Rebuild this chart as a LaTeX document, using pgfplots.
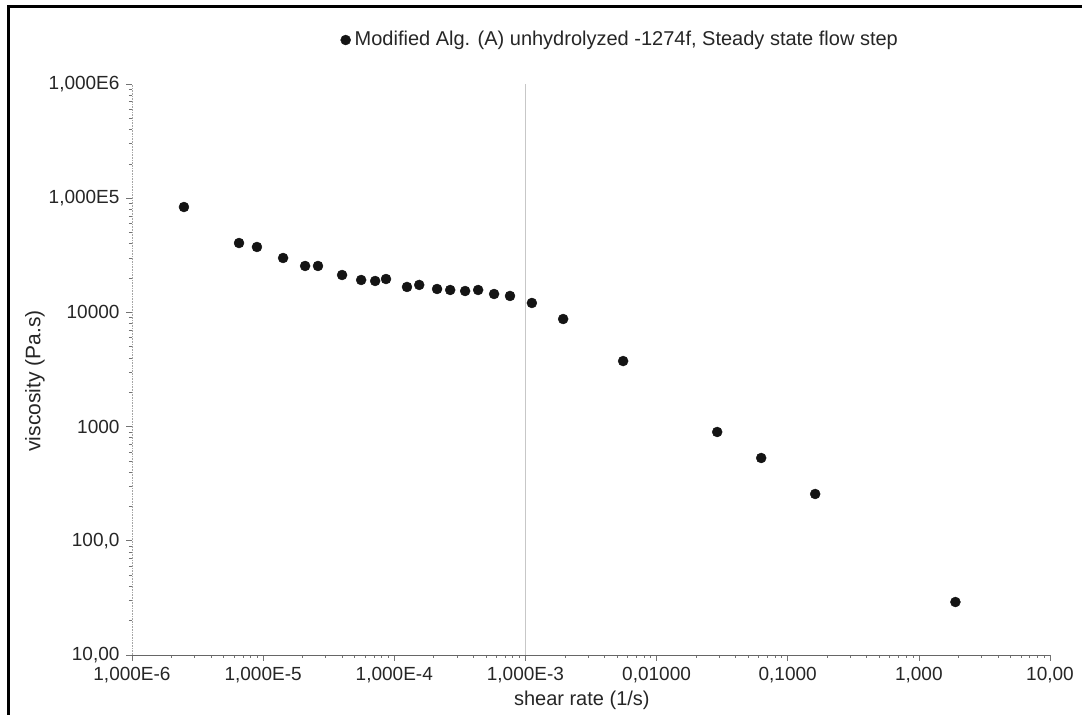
\documentclass[border=0pt]{standalone}
\usepackage{pgfplots}
\pgfplotsset{compat=1.18}
\usepackage{fontspec}
\setmainfont{Liberation Sans}
\pgfplotstableread{
x y
2.49e-6 83700
6.55e-6 40500
8.97e-6 37400
1.42e-5 29950
2.09e-5 25500
2.62e-5 25500
4.00e-5 21250
5.59e-5 19220
7.15e-5 18840
8.65e-5 19600
1.25e-4 16700
1.55e-4 17400
2.12e-4 16030
2.67e-4 15710
3.47e-4 15390
4.36e-4 15710
5.77e-4 14490
7.63e-4 13930
1.12e-3 12090
1.94e-3 8750
5.56e-3 3750
0.0290 897
0.0628 531
0.162 257
1.90 29.1
}\datatable
\begin{document}
\fontsize{19}{22}\selectfont
\begin{tikzpicture}
\useasboundingbox (0pt,0pt) rectangle (1082pt,715pt);
\fill[white] (0pt,0pt) rectangle (1082pt,715pt);
\draw[line width=3pt] (8.5pt,0pt) -- (8.5pt,708.5pt) -- (1082pt,708.5pt);
\begin{axis}[
 at={(132pt,60pt)}, anchor=south west, scale only axis, width=918pt, height=571pt,
 xmode=log, ymode=log, xmin=1e-6, xmax=10, ymin=10, ymax=1e6,
 axis x line*=bottom, axis y line*=left,
 x axis line style={black!60, line width=0.8pt},
 y axis line style={black!35, densely dotted, line width=0.6pt},
 tick align=outside,
 major tick length=6pt, minor tick length=3pt,
 every tick/.style={black!55, line width=0.6pt},
 xtick={1e-6,1e-5,1e-4,1e-3,1e-2,1e-1,1,10},
 xticklabels={{1,000E-6},{1,000E-5},{1,000E-4},{1,000E-3},{0,01000},{0,1000},{1,000},{10,00}},
 ytick={10,100,1000,1e4,1e5,1e6},
 yticklabels={{10,00},{100,0},{1000},{10000},{1,000E5},{1,000E6}},
 tick label style={font=\fontsize{19}{22}\selectfont, text=black!85},
 xlabel={shear rate (1/s)}, ylabel={viscosity (Pa.s)},
 xlabel style={at={(axis description cs:0.490,-0.0788)}, anchor=center, font=\fontsize{20}{23}\selectfont, text=black!85},
 ylabel style={at={(axis description cs:-0.1057,0.48)}, anchor=center, font=\fontsize{21}{24}\selectfont, text=black!85},
 legend style={draw=none, fill=none, at={(axis description cs:0.533,1.077)}, anchor=center, font=\fontsize{20}{23}\selectfont, text=black!85, inner sep=0pt, nodes={inner xsep=4pt}},
 legend cell align=left,
 clip=false,
]
\draw[black!22, line width=0.7pt] (axis cs:1e-3,10) -- (axis cs:1e-3,1e6);
\addplot[only marks, mark=*, mark size=5pt, color=black!92] table[x=x,y=y] {\datatable};
\addlegendentry{Modified Alg. (A) unhydrolyzed -1274f, Steady state flow step}
\end{axis}
\end{tikzpicture}
\end{document}
